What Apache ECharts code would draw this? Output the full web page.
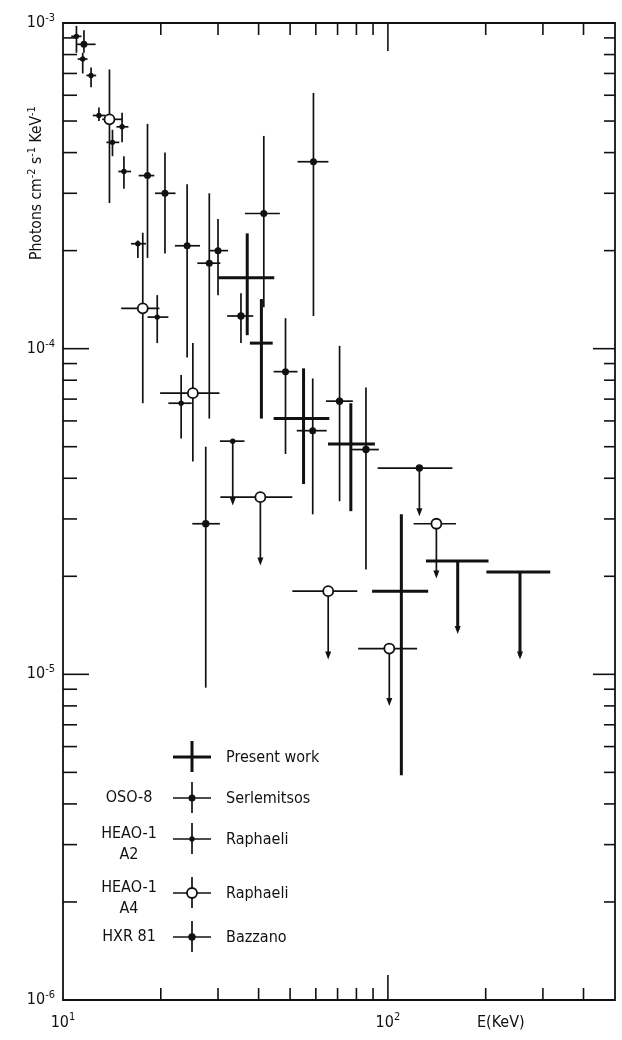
<!DOCTYPE html>
<html>
<head>
<meta charset="utf-8">
<script src="https://cdn.jsdelivr.net/npm/echarts@6/dist/echarts.min.js"></script>
<style>
    html, body { margin: 0; padding: 0; background: #fff; }
    #chart { width: 622px; height: 1040px; }
</style>
</head>
<body>
<div id="chart"></div>
<script>
(function () {
    "use strict";

    // rows: [E, E low, E high, flux, flux top, flux bottom]
    var a2Points = [
        [11.0, 10.6, 11.4, 9.1e-4, 9.8e-4, 8.1e-4],
        [11.5, 11.1, 11.9, 7.75e-4, 8.1e-4, 7.0e-4],
        [12.2, 11.8, 12.65, 6.9e-4, 7.3e-4, 6.35e-4],
        [12.9, 12.35, 13.5, 5.2e-4, 5.5e-4, 5.0e-4],
        [15.2, 14.6, 15.9, 4.8e-4, 5.3e-4, 4.3e-4],
        [14.2, 13.6, 14.9, 4.3e-4, 4.7e-4, 3.9e-4],
        [15.4, 14.8, 16.2, 3.5e-4, 3.9e-4, 3.1e-4],
        [17.0, 16.2, 18.0, 2.1e-4, 2.15e-4, 1.9e-4],
        [19.5, 18.2, 21.1, 1.25e-4, 1.46e-4, 1.04e-4],
        [23.1, 21.1, 24.9, 6.8e-5, 8.3e-5, 5.3e-5]
    ];
    // upper limits: [E, E low, E high, flux, arrow end]
    var a2Limits = [
        [33.3, 30.4, 36.2, 5.2e-5, 3.3e-5]
    ];
    var osoPoints = [
        [11.6, 11.0, 12.6, 8.6e-4, 9.5e-4, 8.1e-4],
        [18.2, 17.1, 19.1, 3.4e-4, 4.9e-4, 1.9e-4],
        [20.6, 19.2, 22.2, 3.0e-4, 4.0e-4, 1.96e-4],
        [24.1, 22.1, 26.4, 2.07e-4, 3.2e-4, 9.4e-5],
        [28.2, 25.9, 30.5, 1.83e-4, 3.0e-4, 6.1e-5],
        [30.0, 28.3, 32.2, 2.0e-4, 2.5e-4, 1.46e-4],
        [41.5, 36.3, 46.5, 2.6e-4, 4.5e-4, 1.34e-4],
        [59.0, 52.7, 65.6, 3.75e-4, 6.1e-4, 1.26e-4],
        [48.4, 44.5, 52.7, 8.5e-5, 1.24e-4, 4.75e-5],
        [58.7, 52.4, 64.8, 5.6e-5, 8.1e-5, 3.1e-5]
    ];
    var hxrPoints = [
        [35.3, 32.0, 38.5, 1.26e-4, 1.48e-4, 1.04e-4],
        [71.0, 64.5, 78.0, 6.9e-5, 1.02e-4, 3.4e-5],
        [85.6, 77.6, 93.8, 4.9e-5, 7.6e-5, 2.1e-5],
        [27.5, 25.0, 30.4, 2.9e-5, 5.0e-5, 9.1e-6]
    ];
    var hxrLimits = [
        [125, 93, 158, 4.3e-5, 3.06e-5]
    ];
    var a4Points = [
        [13.9, 13.2, 15.2, 5.06e-4, 7.2e-4, 2.8e-4],
        [17.6, 15.1, 19.8, 1.33e-4, 2.27e-4, 6.8e-5],
        [25.1, 19.9, 30.3, 7.3e-5, 1.04e-4, 4.5e-5]
    ];
    var a4Limits = [
        [40.5, 30.5, 50.8, 3.5e-5, 2.16e-5],
        [65.5, 50.8, 80.5, 1.8e-5, 1.11e-5],
        [101, 81, 123, 1.2e-5, 8.0e-6],
        [141, 120, 162, 2.9e-5, 1.97e-5]
    ];
    var pwPoints = [
        [36.9, 30.1, 44.7, 1.65e-4, 2.26e-4, 1.1e-4],
        [40.8, 37.6, 44.2, 1.04e-4, 1.42e-4, 6.1e-5],
        [55.0, 44.5, 66.0, 6.1e-5, 8.7e-5, 3.84e-5],
        [76.9, 65.4, 91.2, 5.1e-5, 6.8e-5, 3.17e-5],
        [110, 89.4, 133, 1.8e-5, 3.1e-5, 4.9e-6]
    ];
    var pwLimits = [
        [164, 131, 204, 2.23e-5, 1.33e-5],
        [255, 201, 316, 2.06e-5, 1.11e-5]
    ];

    var xMinorTicks = [20, 30, 40, 50, 60, 70, 80, 90, 200, 300, 400];
    var xMajorTicks = [100];
    var yDecades = [1e-6, 1e-5, 1e-4];
    var yMajorTicks = [1e-5, 1e-4];

    var legendRows = [
        {kind: 'pw', left: [], right: 'Present work'},
        {kind: 'oso', left: ['OSO-8'], right: 'Serlemitsos'},
        {kind: 'a2', left: ['HEAO-1', 'A2'], right: 'Raphaeli'},
        {kind: 'a4', left: ['HEAO-1', 'A4'], right: 'Raphaeli'},
        {kind: 'hxr', left: ['HXR 81'], right: 'Bazzano'}
    ];

    var INK = '#111';
    var FONT = '"DejaVu Sans Condensed", "DejaVu Sans", sans-serif';

    // draws one error cross (lines first, then the marker on top)
    function symbolParts(kind, cx, cy, x1, x2, y1, y2, arrow) {
        var ls = {stroke: INK, lineWidth: kind === 'pw' ? 3 : 1.7};
        var parts = [
            {type: 'line', shape: {x1: x1, y1: cy, x2: x2, y2: cy}, style: ls},
            {type: 'line', shape: {x1: cx, y1: y1, x2: cx, y2: arrow ? y2 - 4 : y2}, style: ls}
        ];
        if (arrow) {
            parts.push({type: 'polygon', shape: {points: [[cx - 3, y2 - 8], [cx + 3, y2 - 8], [cx, y2]]}, style: {fill: INK}});
        }
        if (kind === 'a4') {
            parts.push({type: 'circle', shape: {cx: cx, cy: cy, r: 5}, style: {fill: '#fff', stroke: INK, lineWidth: 1.8}});
        } else if (kind === 'a2') {
            parts.push({type: 'circle', shape: {cx: cx, cy: cy, r: 2.7}, style: {fill: INK}});
        } else if (kind === 'oso') {
            parts.push({type: 'circle', shape: {cx: cx, cy: cy, r: 3.5}, style: {fill: INK}});
        } else if (kind === 'hxr') {
            parts.push({type: 'circle', shape: {cx: cx, cy: cy, r: 3.7}, style: {fill: INK}});
        }
        return parts;
    }

    function errorRender(kind, isLimit) {
        return function (params, api) {
            var e = api.value(0), f = api.value(3);
            var c = api.coord([e, f]);
            var l = api.coord([api.value(1), f]);
            var r = api.coord([api.value(2), f]);
            var t, b;
            if (isLimit) {
                t = c;
                b = api.coord([e, api.value(4)]);
            } else {
                t = api.coord([e, api.value(4)]);
                b = api.coord([e, api.value(5)]);
            }
            return {type: 'group', children: symbolParts(kind, c[0], c[1], l[0], r[0], t[1], b[1], isLimit)};
        };
    }

    function errorSeries(name, kind, data, isLimit) {
        return {
            name: name,
            type: 'custom',
            silent: true,
            encode: {x: 0, y: 3},
            data: data,
            renderItem: errorRender(kind, isLimit)
        };
    }

    // tick rows: [value, kind]  kind 0 x minor, 1 x major, 2 y minor, 3 y major
    var tickRows = [];
    xMinorTicks.forEach(function (v) { tickRows.push([v, 0]); });
    xMajorTicks.forEach(function (v) { tickRows.push([v, 1]); });
    yDecades.forEach(function (d) {
        for (var k = 2; k <= 9; k++) { tickRows.push([d * k, 2]); }
    });
    yMajorTicks.forEach(function (v) { tickRows.push([v, 3]); });

    function tickRender(params, api) {
        var cs = params.coordSys;
        var v = api.value(0), kind = api.value(1);
        var st = {stroke: INK, lineWidth: 1.6};
        var bottom = cs.y + cs.height, right = cs.x + cs.width;
        if (kind < 2) {
            var px = api.coord([v, 1e-5])[0];
            var lb = kind === 1 ? 25 : 12, lt = kind === 1 ? 28 : 12;
            return {type: 'group', children: [
                {type: 'line', shape: {x1: px, y1: bottom, x2: px, y2: bottom - lb}, style: st},
                {type: 'line', shape: {x1: px, y1: cs.y, x2: px, y2: cs.y + lt}, style: st}
            ]};
        }
        var py = api.coord([20, v])[1];
        var ll = kind === 3 ? 26 : 14, lr = kind === 3 ? 22 : 11;
        return {type: 'group', children: [
            {type: 'line', shape: {x1: cs.x, y1: py, x2: cs.x + ll, y2: py}, style: st},
            {type: 'line', shape: {x1: right, y1: py, x2: right - lr, y2: py}, style: st}
        ]};
    }

    function powerLabel(v) {
        var lg = Math.log(v) / Math.LN10;
        var p = Math.round(lg);
        if (Math.abs(lg - p) > 1e-6) { return ''; }
        return '{b|10}{s|' + p + '}';
    }

    var labelRich = {
        b: {fontSize: 16, fontFamily: FONT, color: INK, lineHeight: 21},
        s: {fontSize: 11, fontFamily: FONT, color: INK, lineHeight: 12, verticalAlign: 'top'}
    };

    // legend drawn as plain graphics
    var legendY = [757, 798, 839, 893, 937];
    var legendGraphics = [];
    function legendText(x, y, text, align) {
        return {
            type: 'text', x: x, y: y,
            style: {text: text, fill: INK, fontSize: 16, fontFamily: FONT, align: align, verticalAlign: 'middle'}
        };
    }
    legendRows.forEach(function (row, i) {
        var y = legendY[i];
        var cx = 192;
        symbolParts(row.kind, cx, y, cx - 19, cx + 19, y - 16, y + 15, false).forEach(function (el) {
            legendGraphics.push(el);
        });
        legendGraphics.push(legendText(226, y + 1, row.right, 'left'));
        if (row.left.length === 1) {
            legendGraphics.push(legendText(129, y, row.left[0], 'center'));
        } else if (row.left.length === 2) {
            legendGraphics.push(legendText(129, y - 5, row.left[0], 'center'));
            legendGraphics.push(legendText(129, y + 16, row.left[1], 'center'));
        }
    });

    legendGraphics.push({
        type: 'text', x: 37, y: 183, rotation: Math.PI / 2,
        style: {
            text: '{a|Photons cm}{s|-2}{a| s}{s|-1}{a| KeV}{s|-1}',
            align: 'center', verticalAlign: 'middle',
            rich: {
                a: {fontSize: 15.5, fontFamily: FONT, fill: INK, lineHeight: 20},
                s: {fontSize: 11, fontFamily: FONT, fill: INK, lineHeight: 12, verticalAlign: 'top'}
            }
        }
    });
    legendGraphics.push(legendText(477, 1023, 'E(KeV)', 'left'));

    var myChart = echarts.init(document.getElementById('chart'));
    var option = {
        animation: false,
        backgroundColor: '#fff',
        grid: {
            left: 63, right: 7, top: 23, bottom: 40,
            show: true, borderColor: INK, borderWidth: 1.8
        },
        xAxis: {
            type: 'log', logBase: 10, min: 10, max: 500,
            axisLine: {show: false},
            axisTick: {show: false},
            minorTick: {show: false},
            splitLine: {show: false},
            axisLabel: {
                margin: 12,
                showMaxLabel: false,
                formatter: powerLabel,
                rich: labelRich
            }
        },
        yAxis: {
            type: 'log', logBase: 10, min: 1e-6, max: 1e-3,
            axisLine: {show: false},
            axisTick: {show: false},
            minorTick: {show: false},
            splitLine: {show: false},
            axisLabel: {
                margin: 8,
                formatter: powerLabel,
                rich: labelRich
            }
        },
        graphic: legendGraphics,
        series: [
            {
                name: 'ticks',
                type: 'custom',
                silent: true,
                encode: {x: 0},
                data: tickRows,
                renderItem: tickRender
            },
            errorSeries('Present work', 'pw', pwPoints, false),
            errorSeries('Present work', 'pw', pwLimits, true),
            errorSeries('Serlemitsos', 'oso', osoPoints, false),
            errorSeries('Raphaeli A2', 'a2', a2Points, false),
            errorSeries('Raphaeli A2', 'a2', a2Limits, true),
            errorSeries('Bazzano', 'hxr', hxrPoints, false),
            errorSeries('Bazzano', 'hxr', hxrLimits, true),
            errorSeries('Raphaeli A4', 'a4', a4Points, false),
            errorSeries('Raphaeli A4', 'a4', a4Limits, true)
        ]
    };
    myChart.setOption(option, true);
})();
</script>
</body>
</html>
